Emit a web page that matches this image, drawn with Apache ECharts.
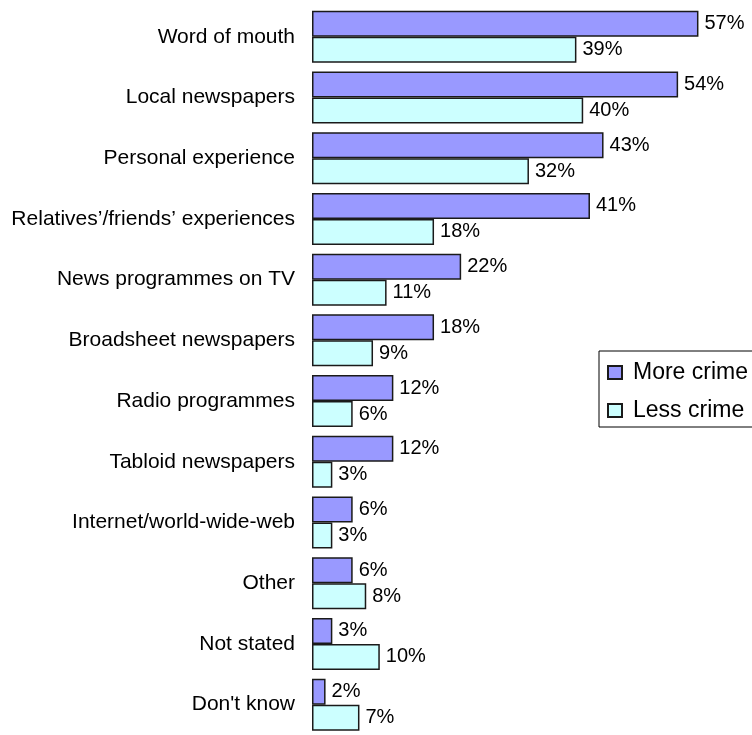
<!DOCTYPE html>
<html>
<head>
<meta charset="utf-8">
<script src="https://cdn.jsdelivr.net/npm/echarts@6/dist/echarts.min.js"></script>
<style>
html,body{margin:0;padding:0;background:#fff;}
#chart{width:752px;height:735px;}
</style>
</head>
<body>
<div id="chart"></div>
<script>
const categories = ["Word of mouth","Local newspapers","Personal experience","Relatives\u2019/friends\u2019 experiences","News programmes on TV","Broadsheet newspapers","Radio programmes","Tabloid newspapers","Internet/world-wide-web","Other","Not stated","Don't know"];
const moreCrime = [57,54,43,41,22,18,12,12,6,6,3,2];
const lessCrime = [39,40,32,18,11,9,6,3,3,8,10,7];
const seriesNames = ["More crime","Less crime"];

const FONT = '"Liberation Sans", Arial, sans-serif';
const chart = echarts.init(document.getElementById('chart'), null, {renderer:'canvas'});
const labelCfg = {show:true, position:'right', distance:6, formatter:'{c}%', color:'#000', fontSize:20, fontFamily:FONT};
chart.setOption({
  animation:false,
  backgroundColor:'#fff',
  grid:{left:312, top:6.4, width:406.8, height:734.2, containLabel:false},
  xAxis:{type:'value', min:0, max:60, show:false},
  yAxis:{type:'category', data:categories, inverse:true,
    axisLine:{show:false}, axisTick:{show:false}, splitLine:{show:false},
    axisLabel:{fontSize:21, color:'#000', fontFamily:FONT, margin:17}},
  legend:{orient:'vertical', left:599, top:351, data:seriesNames,
    icon:'rect', itemWidth:14, itemHeight:13, itemGap:15,
    padding:[10,60,5,8], borderColor:'#000', borderWidth:1, backgroundColor:'#fff',
    textStyle:{fontSize:23, color:'#000', fontFamily:FONT, padding:[0,0,0,6]}},
  series:[
    {name:seriesNames[0], type:'bar', data:moreCrime, barWidth:26, barGap:'0%',
     itemStyle:{color:'#9999FF', borderColor:'#1a1a1a', borderWidth:1.5},
     label:labelCfg},
    {name:seriesNames[1], type:'bar', data:lessCrime, barWidth:26, barGap:'0%',
     itemStyle:{color:'#CCFFFF', borderColor:'#1a1a1a', borderWidth:1.5},
     label:labelCfg}
  ]
});
</script>
</body>
</html>
